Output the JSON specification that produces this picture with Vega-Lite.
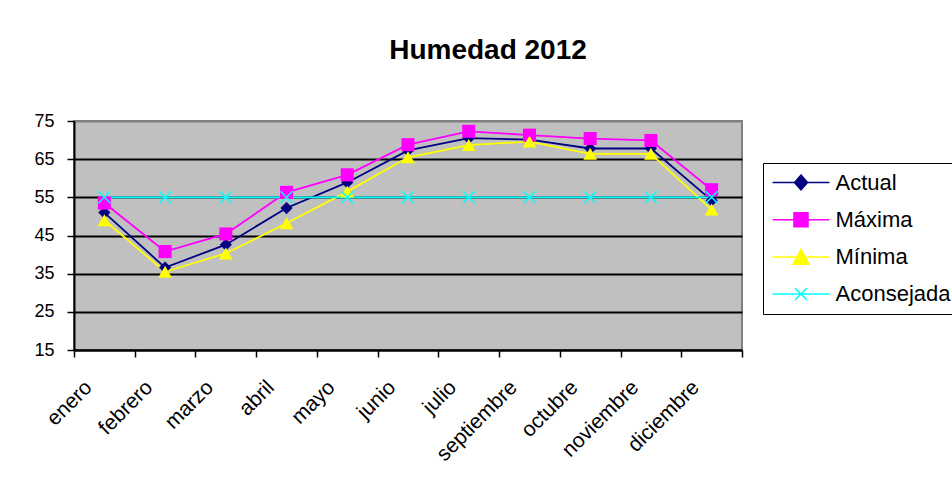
{
  "$schema": "https://vega.github.io/schema/vega-lite/v6.json",
  "autosize": "none",
  "width": 668,
  "height": 229,
  "padding": {"left": 74, "top": 121, "right": 210, "bottom": 135},
  "background": "white",
  "title": {
    "text": "Humedad 2012",
    "font": "Liberation Sans",
    "fontSize": 28,
    "fontWeight": "bold",
    "color": "black",
    "anchor": "middle",
    "frame": "group",
    "dx": 80,
    "baseline": "alphabetic",
    "offset": 25
  },
  "config": {
    "view": {"fill": "#C0C0C0", "stroke": "#808080", "strokeWidth": 2},
    "font": "Liberation Sans"
  },
  "data": {
    "values": [
      {"mes": "enero", "serie": "Actual", "valor": 51.0},
      {"mes": "febrero", "serie": "Actual", "valor": 36.6},
      {"mes": "marzo", "serie": "Actual", "valor": 42.6},
      {"mes": "abril", "serie": "Actual", "valor": 52.2},
      {"mes": "mayo", "serie": "Actual", "valor": 58.9},
      {"mes": "junio", "serie": "Actual", "valor": 67.3},
      {"mes": "julio", "serie": "Actual", "valor": 70.5},
      {"mes": "septiembre", "serie": "Actual", "valor": 70.1},
      {"mes": "octubre", "serie": "Actual", "valor": 67.8},
      {"mes": "noviembre", "serie": "Actual", "valor": 67.8},
      {"mes": "diciembre", "serie": "Actual", "valor": 54.2},
      {"mes": "enero", "serie": "Máxima", "valor": 53.5},
      {"mes": "febrero", "serie": "Máxima", "valor": 40.8},
      {"mes": "marzo", "serie": "Máxima", "valor": 45.4},
      {"mes": "abril", "serie": "Máxima", "valor": 56.3},
      {"mes": "mayo", "serie": "Máxima", "valor": 60.9},
      {"mes": "junio", "serie": "Máxima", "valor": 68.8},
      {"mes": "julio", "serie": "Máxima", "valor": 72.3},
      {"mes": "septiembre", "serie": "Máxima", "valor": 71.3},
      {"mes": "octubre", "serie": "Máxima", "valor": 70.4},
      {"mes": "noviembre", "serie": "Máxima", "valor": 69.9},
      {"mes": "diciembre", "serie": "Máxima", "valor": 57.0},
      {"mes": "enero", "serie": "Mínima", "valor": 49.0},
      {"mes": "febrero", "serie": "Mínima", "valor": 35.5},
      {"mes": "marzo", "serie": "Mínima", "valor": 40.3},
      {"mes": "abril", "serie": "Mínima", "valor": 48.2},
      {"mes": "mayo", "serie": "Mínima", "valor": 56.5},
      {"mes": "junio", "serie": "Mínima", "valor": 65.5},
      {"mes": "julio", "serie": "Mínima", "valor": 68.7},
      {"mes": "septiembre", "serie": "Mínima", "valor": 69.6},
      {"mes": "octubre", "serie": "Mínima", "valor": 66.4},
      {"mes": "noviembre", "serie": "Mínima", "valor": 66.4},
      {"mes": "diciembre", "serie": "Mínima", "valor": 51.8},
      {"mes": "enero", "serie": "Aconsejada", "valor": 55},
      {"mes": "febrero", "serie": "Aconsejada", "valor": 55},
      {"mes": "marzo", "serie": "Aconsejada", "valor": 55},
      {"mes": "abril", "serie": "Aconsejada", "valor": 55},
      {"mes": "mayo", "serie": "Aconsejada", "valor": 55},
      {"mes": "junio", "serie": "Aconsejada", "valor": 55},
      {"mes": "julio", "serie": "Aconsejada", "valor": 55},
      {"mes": "septiembre", "serie": "Aconsejada", "valor": 55},
      {"mes": "octubre", "serie": "Aconsejada", "valor": 55},
      {"mes": "noviembre", "serie": "Aconsejada", "valor": 55},
      {"mes": "diciembre", "serie": "Aconsejada", "valor": 55}
    ]
  },
  "encoding": {
    "x": {
      "field": "mes",
      "type": "nominal",
      "sort": null,
      "scale": {"type": "band", "paddingInner": 0, "paddingOuter": 0},
      "axis": {
        "title": null,
        "tickBand": "extent",
        "ticks": true,
        "tickSize": 7,
        "tickColor": "black",
        "tickWidth": 1.5,
        "domainColor": "black",
        "domainWidth": 2,
        "grid": false,
        "labelAngle": -45,
        "labelAlign": "right",
        "labelBaseline": "middle",
        "labelFont": "Liberation Sans",
        "labelFontSize": 21,
        "labelColor": "black",
        "labelPadding": 27,
        "labelOffset": -16,
        "labelOverlap": false,
        "labelFlush": false,
        "labelBound": false
      }
    },
    "y": {
      "field": "valor",
      "type": "quantitative",
      "scale": {"domain": [15, 75], "nice": false, "zero": false},
      "axis": {
        "title": null,
        "values": [15, 25, 35, 45, 55, 65, 75],
        "grid": true,
        "gridColor": {"condition": {"test": "datum.value === 75", "value": "#808080"}, "value": "black"},
        "gridWidth": 2,
        "gridOpacity": 1,
        "domainColor": "black",
        "domainWidth": 2,
        "tickSize": 7,
        "tickColor": "black",
        "tickWidth": 1.5,
        "labelFont": "Liberation Sans",
        "labelFontSize": 18,
        "labelColor": "black",
        "labelPadding": 13,
        "labelFlush": false,
        "labelOverlap": false
      }
    },
    "color": {
      "field": "serie",
      "type": "nominal",
      "scale": {
        "domain": ["Actual", "Máxima", "Mínima", "Aconsejada"],
        "range": ["#000080", "#FF00FF", "#FFFF00", "#00FFFF"]
      },
      "legend": {
        "title": null,
        "orient": "none",
        "legendX": 689,
        "legendY": 42,
        "direction": "vertical",
        "strokeColor": "black",
        "fillColor": "white",
        "padding": 8,
        "cornerRadius": 0,
        "labelFont": "Liberation Sans",
        "labelFontSize": 22,
        "labelColor": "black",
        "labelOffset": 23,
        "symbolSize": 441,
        "symbolOffset": 18.5,
        "symbolStrokeWidth": 1.5,
        "rowPadding": 14.2,
        "labelLimit": 300,
        "encode": {
          "symbols": {
            "update": {
              "shape": {"signal": "datum.value === 'Actual' ? 'M-2.71,0H2.71M0,-0.71L0.62,0L0,0.71L-0.62,0Z' : datum.value === 'Máxima' ? 'M-2.71,0H2.71M-0.67,-0.67H0.67V0.67H-0.67Z' : datum.value === 'Mínima' ? 'M-2.71,0H2.71M0,-0.71L0.76,0.71H-0.76Z' : 'M-2.71,0H2.71M-0.57,-0.57L0.57,0.57M-0.57,0.57L0.57,-0.57'"},
              "fill": {"signal": "datum.value === 'Actual' ? '#000080' : datum.value === 'Máxima' ? '#FF00FF' : datum.value === 'Mínima' ? '#FFFF00' : '#00FFFF'"},
              "stroke": {"signal": "datum.value === 'Actual' ? '#000080' : datum.value === 'Máxima' ? '#FF00FF' : datum.value === 'Mínima' ? '#FFFF00' : '#00FFFF'"},
              "strokeWidth": {"value": 1.5},
              "opacity": {"value": 1}
            }
          }
        }
      }
    }
  },
  "layer": [
    {
      "mark": {"type": "line", "strokeWidth": 1.8}
    },
    {
      "transform": [{"filter": "datum.serie === 'Actual'"}],
      "mark": {"type": "point", "filled": true, "shape": "diamond", "size": 150, "opacity": 1}
    },
    {
      "transform": [{"filter": "datum.serie === 'Máxima'"}],
      "mark": {"type": "point", "filled": true, "shape": "square", "size": 170, "opacity": 1}
    },
    {
      "transform": [{"filter": "datum.serie === 'Mínima'"}],
      "mark": {"type": "point", "filled": true, "shape": "triangle-up", "size": 190, "opacity": 1}
    },
    {
      "transform": [{"filter": "datum.serie === 'Aconsejada'"}],
      "mark": {
        "type": "point",
        "filled": false,
        "shape": "M-1,-1L1,1M-1,1L1,-1",
        "size": 144,
        "color": "#00FFFF",
        "strokeWidth": 1.5,
        "opacity": 1
      },
      "encoding": {"color": {"value": "#00FFFF"}}
    }
  ]
}
